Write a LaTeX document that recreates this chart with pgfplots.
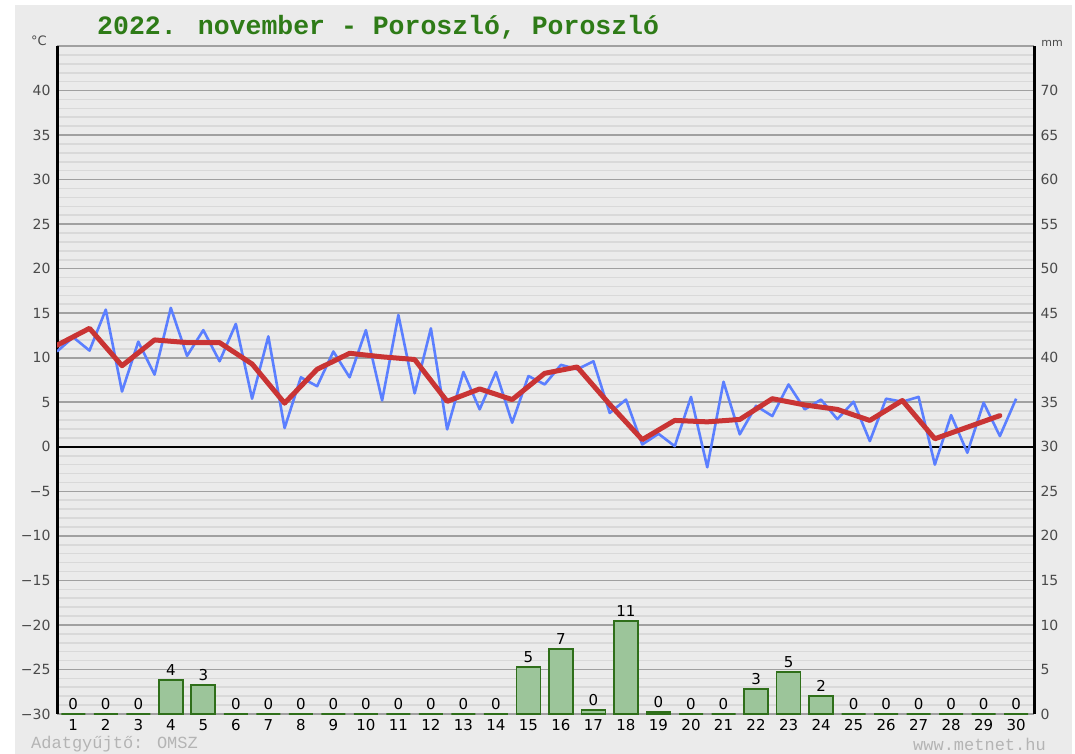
\documentclass[border=0pt]{standalone}
\usepackage{pgfplots}
\pgfplotsset{compat=1.18}
\usepackage{fontspec}
\setmainfont{DejaVu Sans}
\newfontfamily\monofont{Liberation Mono}
\definecolor{bggray}{HTML}{EBEBEB}
\definecolor{minorgrid}{HTML}{D9D9D9}
\definecolor{majorgrid}{HTML}{A0A0A0}
\definecolor{tblue}{HTML}{5B7FFF}
\definecolor{tred}{HTML}{C93434}
\definecolor{barfill}{HTML}{9CC59A}
\definecolor{bardraw}{HTML}{2F6F1A}
\definecolor{titlegreen}{HTML}{2E7B17}
\definecolor{tickgray}{HTML}{4A4A4A}
\definecolor{footgray}{HTML}{B4B4B4}
\begin{document}
\begin{tikzpicture}
\fill[white] (0pt,0pt) rectangle (1075pt,754pt);
\fill[bggray] (15pt,0pt) rectangle (1072pt,749pt);
\node[anchor=west, font=\monofont\bfseries\fontsize{26.5}{28}\selectfont, text=titlegreen, inner sep=0] at (97pt,727pt) {2022. november - Poroszló, Poroszló};
\node[font=\fontsize{13}{15}\selectfont, text=tickgray, inner sep=0] at (39pt,713pt) {°C};
\node[font=\fontsize{11}{13}\selectfont, text=tickgray, inner sep=0] at (1052pt,711pt) {mm};
\node[anchor=west, font=\monofont\fontsize{17}{19}\selectfont, text=footgray, inner sep=0] at (31pt,10pt) {Adatgyűjtő: OMSZ};
\node[anchor=east, font=\monofont\fontsize{17}{19}\selectfont, text=footgray, inner sep=0] at (1046pt,10pt) {www.metnet.hu};

\begin{axis}[
  at={(57pt,40pt)}, anchor=south west,
  scale only axis, width=977pt, height=668pt,
  xmin=0.5, xmax=30.55, ymin=-30, ymax=45,
  axis y line*=left, axis x line*=bottom,
  x axis line style={draw=none},
  y axis line style={black, line width=3pt},
  xtick={1,...,30},
  /pgf/number format/assume math mode=true,
  xticklabel style={font=\fontsize{15}{17}\selectfont, text=black, yshift=-2pt},
  ytick={-30,-25,...,45},
  yticklabels={−30,−25,−20,−15,−10,−5,0,5,10,15,20,25,30,35,40,{}},
  yticklabel style={font=\fontsize{14}{16}\selectfont, text=tickgray, xshift=-3pt},
  minor y tick num=4,
  major tick length=0pt, minor tick length=0pt,
  ymajorgrids, yminorgrids,
  major grid style={majorgrid, line width=1.6pt},
  minor grid style={minorgrid, line width=1.6pt},
  extra y ticks={0}, extra y tick labels={},
  extra y tick style={major grid style={black, line width=1.6pt}},
]
\addplot[tblue, line width=2.6pt, line join=round, mark=none] coordinates {
(0.5,10.7) (1.0,12.3) (1.5,10.8) (2.0,15.4) (2.5,6.2) (3.0,11.8) (3.5,8.1) (4.0,15.6)
(4.5,10.2) (5.0,13.1) (5.5,9.6) (6.0,13.8) (6.5,5.4) (7.0,12.4) (7.5,2.1) (8.0,7.8)
(8.5,6.8) (9.0,10.7) (9.5,7.8) (10.0,13.1) (10.5,5.2) (11.0,14.8) (11.5,6.0) (12.0,13.3)
(12.5,1.95) (13.0,8.4) (13.5,4.2) (14.0,8.4) (14.5,2.7) (15.0,7.95) (15.5,7.0) (16.0,9.2)
(16.5,8.7) (17.0,9.6) (17.5,3.8) (18.0,5.3) (18.5,0.26) (19.0,1.46) (19.5,0.07) (20.0,5.6)
(20.5,-2.3) (21.0,7.3) (21.5,1.4) (22.0,4.6) (22.5,3.45) (23.0,7.0) (23.5,4.2) (24.0,5.3)
(24.5,3.1) (25.0,5.06) (25.5,0.64) (26.0,5.4) (26.5,5.06) (27.0,5.6) (27.5,-2.0) (28.0,3.56)
(28.5,-0.67) (29.0,4.95) (29.5,1.2) (30.0,5.4)
};
\addplot[tred, line width=5pt, line join=round, line cap=round, mark=none] coordinates {
(0.5,11.4) (1.5,13.3) (2.5,9.1) (3.5,12.0) (4.5,11.7) (5.5,11.7) (6.5,9.3) (7.5,4.9)
(8.5,8.7) (9.5,10.5) (10.5,10.1) (11.5,9.8) (12.5,5.1) (13.5,6.5) (14.5,5.3) (15.5,8.25)
(16.5,8.96) (17.5,4.76) (18.5,0.8) (19.5,2.96) (20.5,2.8) (21.5,3.07) (22.5,5.4) (23.5,4.7)
(24.5,4.2) (25.5,2.96) (26.5,5.2) (27.5,0.9) (28.5,2.2) (29.5,3.5)
};
\end{axis}

\begin{axis}[
  at={(57pt,40pt)}, anchor=south west,
  scale only axis, width=977pt, height=668pt,
  xmin=0.5, xmax=30.55, ymin=0, ymax=75,
  axis y line*=right, axis x line=none,
  y axis line style={black, line width=3pt},
  /pgf/number format/assume math mode=true,
  ytick={0,5,...,70},
  yticklabel style={font=\fontsize{14}{16}\selectfont, text=tickgray, xshift=3pt},
  major tick length=0pt, minor tick length=0pt,
  clip=false,
]
\addplot[ybar, bar width=24pt, fill=barfill, draw=bardraw, line width=1.8pt,
  point meta=explicit symbolic, nodes near coords={\pgfplotspointmeta},
  nodes near coords style={font=\fontsize{15}{17}\selectfont, text=black, anchor=south, yshift=0pt}]
coordinates {
(1,0) [0] (2,0) [0] (3,0) [0] (4,3.8) [4] (5,3.26) [3] (6,0) [0] (7,0) [0] (8,0) [0]
(9,0) [0] (10,0) [0] (11,0) [0] (12,0) [0] (13,0) [0] (14,0) [0] (15,5.24) [5] (16,7.3) [7]
(17,0.45) [0] (18,10.47) [11] (19,0.2) [0] (20,0) [0] (21,0) [0] (22,2.8) [3] (23,4.7) [5] (24,2.05) [2]
(25,0) [0] (26,0) [0] (27,0) [0] (28,0) [0] (29,0) [0] (30,0) [0]
};
\end{axis}
\end{tikzpicture}
\end{document}
